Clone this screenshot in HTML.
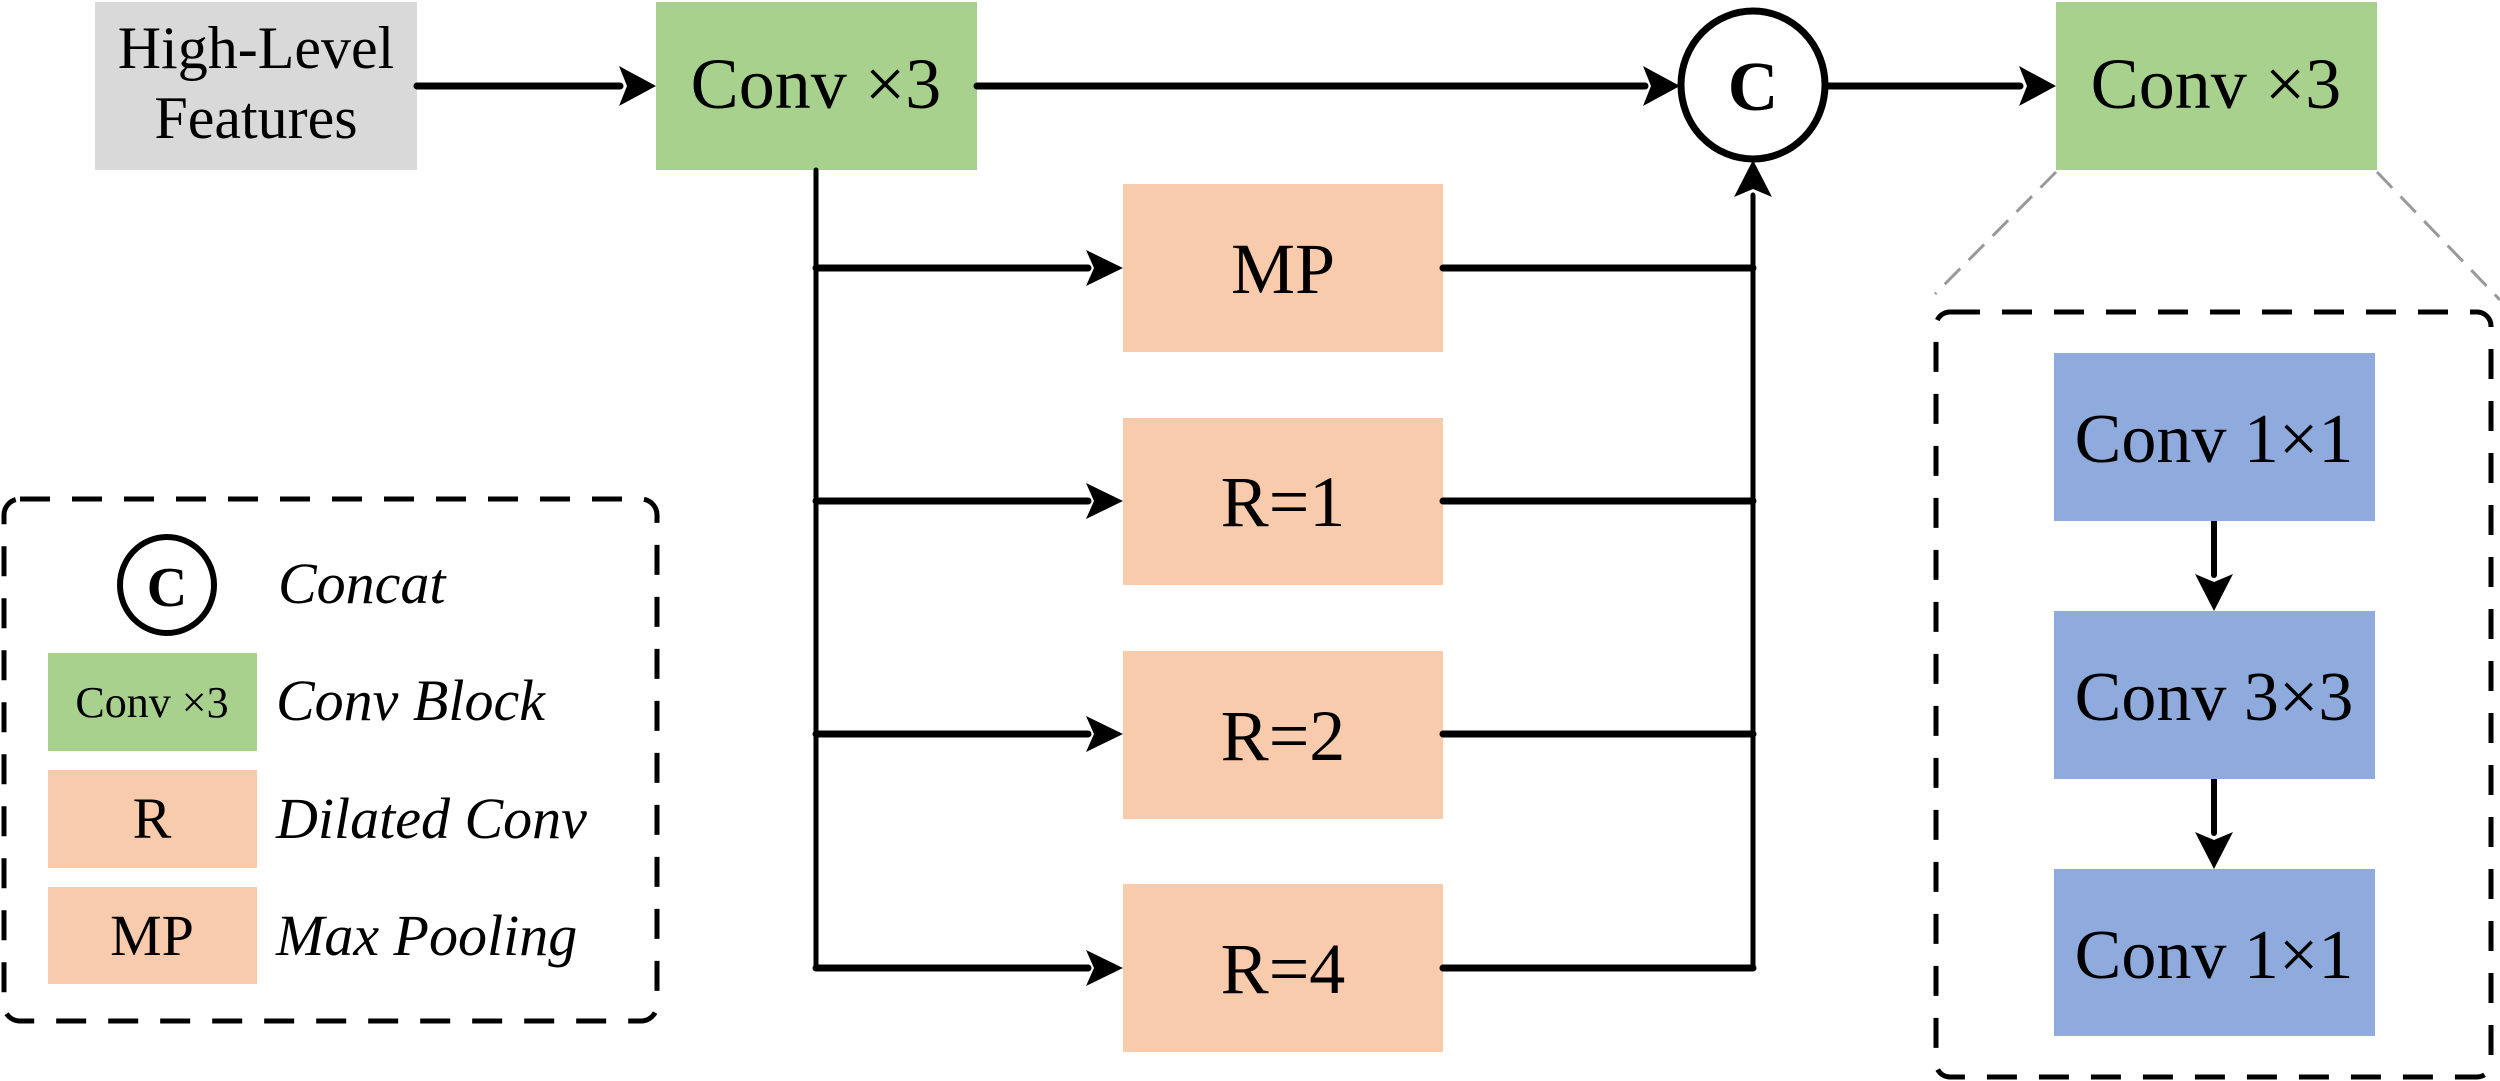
<!DOCTYPE html>
<html><head><meta charset="utf-8"><style>
html,body{margin:0;padding:0;background:#fff;}
svg{display:block;}
text{font-family:"Liberation Serif",serif;fill:#000;}
</style></head><body>
<svg width="2500" height="1081" viewBox="0 0 2500 1081" xmlns="http://www.w3.org/2000/svg">
<defs>
<marker id="ah" markerWidth="10" markerHeight="10" refX="9" refY="5" orient="auto" markerUnits="userSpaceOnUse" viewBox="0 0 10 10"></marker>
</defs>
<!-- boxes -->
<rect x="95" y="2" width="322" height="168" fill="#d9d9d9"/>
<text x="256" y="68" font-size="60" text-anchor="middle">High-Level</text>
<text x="256" y="138" font-size="60" text-anchor="middle">Features</text>

<rect x="656" y="2" width="321" height="168" fill="#a9d18e"/>
<text x="816" y="108" font-size="72" text-anchor="middle">Conv ×3</text>

<rect x="2056" y="2" width="321" height="168" fill="#a9d18e"/>
<text x="2216" y="108" font-size="72" text-anchor="middle">Conv ×3</text>

<g fill="#f8cbad">
<rect x="1123" y="184" width="320" height="168"/>
<rect x="1123" y="418" width="320" height="167"/>
<rect x="1123" y="651" width="320" height="168"/>
<rect x="1123" y="884" width="320" height="168"/>
</g>
<g font-size="72" text-anchor="middle">
<text x="1283" y="293">MP</text>
<text x="1283" y="526">R=1</text>
<text x="1283" y="760">R=2</text>
<text x="1283" y="993">R=4</text>
</g>

<!-- concat circle -->
<ellipse cx="1753" cy="85" rx="72" ry="74" fill="#fff" stroke="#000" stroke-width="7"/>
<text x="1753" y="110" font-size="70" font-weight="bold" text-anchor="middle">C</text>

<!-- connectors -->
<g stroke="#000" stroke-width="7" fill="none" stroke-linecap="round">
<line x1="417" y1="86" x2="620" y2="86"/>
<line x1="977" y1="86" x2="1645" y2="86"/>
<line x1="1826" y1="86" x2="2020" y2="86"/>
<line x1="816" y1="170" x2="816" y2="968" stroke-width="5"/>
<line x1="816" y1="268" x2="1088" y2="268"/>
<line x1="816" y1="501" x2="1088" y2="501"/>
<line x1="816" y1="734" x2="1088" y2="734"/>
<line x1="816" y1="968" x2="1088" y2="968"/>
<line x1="1443" y1="268" x2="1753" y2="268"/>
<line x1="1443" y1="501" x2="1753" y2="501"/>
<line x1="1443" y1="734" x2="1753" y2="734"/>
<line x1="1443" y1="968" x2="1753" y2="968"/>
<line x1="1753" y1="968" x2="1753" y2="195" stroke-width="5"/>
<line x1="2214" y1="521" x2="2214" y2="575" stroke-width="6"/>
<line x1="2214" y1="779" x2="2214" y2="833" stroke-width="6"/>
</g>
<g fill="#000">
<polygon points="656,86 619,66 627,86 619,106"/>
<polygon points="1680,86 1643,66 1651,86 1643,106"/>
<polygon points="2056,86 2019,66 2027,86 2019,106"/>
<polygon points="1123,268 1086,250 1094,268 1086,286"/>
<polygon points="1123,501 1086,483 1094,501 1086,519"/>
<polygon points="1123,734 1086,716 1094,734 1086,752"/>
<polygon points="1123,968 1086,950 1094,968 1086,986"/>
<polygon points="1753,160 1734,197 1753,189 1772,197"/>
<polygon points="2214,611 2195,574 2214,582 2233,574"/>
<polygon points="2214,869 2195,832 2214,840 2233,832"/>
</g>

<!-- zoom lines -->
<g stroke="#999" stroke-width="3" stroke-dasharray="22,12" fill="none">
<line x1="2056" y1="172" x2="1935" y2="294"/>
<line x1="2377" y1="172" x2="2500" y2="300"/>
</g>

<!-- right dashed box -->
<rect x="1936" y="312" width="555" height="765" rx="14" fill="none" stroke="#000" stroke-width="5" stroke-dasharray="30,22"/>
<g fill="#8faadc">
<rect x="2054" y="353" width="321" height="168"/>
<rect x="2054" y="611" width="321" height="168"/>
<rect x="2054" y="869" width="321" height="167"/>
</g>
<g font-size="70" text-anchor="middle">
<text x="2214" y="462">Conv 1×1</text>
<text x="2214" y="720">Conv 3×3</text>
<text x="2214" y="978">Conv 1×1</text>
</g>

<!-- legend -->
<rect x="4" y="499" width="653" height="522" rx="16" fill="none" stroke="#000" stroke-width="5" stroke-dasharray="30,22"/>
<ellipse cx="167" cy="585" rx="47" ry="48" fill="#fff" stroke="#000" stroke-width="6"/>
<text x="167" y="606" font-size="56" font-weight="bold" text-anchor="middle">C</text>
<rect x="48" y="653" width="209" height="98" fill="#a9d18e"/>
<text x="152" y="717" font-size="44" text-anchor="middle">Conv ×3</text>
<rect x="48" y="770" width="209" height="98" fill="#f8cbad"/>
<text x="152" y="838" font-size="58" text-anchor="middle">R</text>
<rect x="48" y="887" width="209" height="97" fill="#f8cbad"/>
<text x="152" y="955" font-size="58" text-anchor="middle">MP</text>
<g font-size="58" font-style="italic">
<text x="278" y="603">Concat</text>
<text x="276" y="720">Conv Block</text>
<text x="276" y="838">Dilated Conv</text>
<text x="276" y="955">Max Pooling</text>
</g>
</svg>
</body></html>
